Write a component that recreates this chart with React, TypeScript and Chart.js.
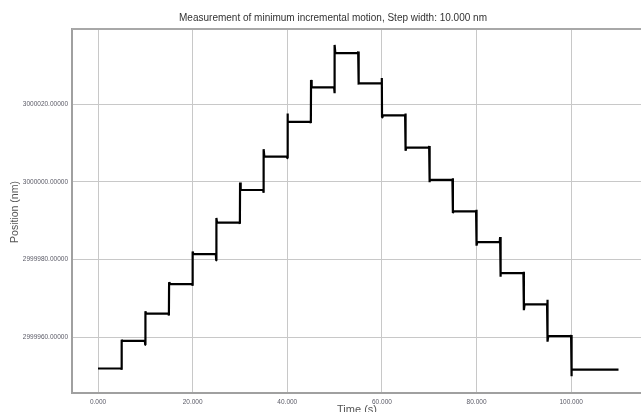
import React, { useEffect, useRef } from "react";
import { Chart, registerables } from "chart.js";

Chart.register(...registerables);

const titleText = "Measurement of minimum incremental motion, Step width: 10.000 nm";
const xTitle = "Time (s)";
const yTitle = "Position (nm)";

// boundaries of each plateau (s)
const stepTimes = [0, 5, 10, 15, 20, 25, 30, 35, 40, 45, 50, 55, 60, 65, 70, 75, 80, 85, 90, 95, 100, 110];
// plateau positions (nm)
const levels = [
  2999952.0, 2999959.1, 2999966.1, 2999973.7, 2999981.4, 2999989.5, 2999997.9, 3000006.5,
  3000015.4, 3000024.3, 3000033.1, 3000025.3, 3000017.1, 3000008.8, 3000000.5, 2999992.4,
  2999984.5, 2999976.5, 2999968.5, 2999960.3, 2999951.7,
];
// spike opposite to the move, just before each transition (nm)
const preSpike = [0.3, 1.0, 0.5, 0.4, 1.6, 0.3, 0.7, 0.4, 0.3, 1.5, 0.4, 1.4, 0.5, 0.4, 0.4, 0.4, 1.3, 0.4, 1.2, 0.3];
// overshoot past the new level at each transition (nm)
const overshoot = [0.3, 0.6, 0.5, 0.7, 1.2, 1.9, 1.9, 2.2, 1.9, 2.1, 0.3, 0.5, 0.8, 0.6, 0.4, 0.9, 0.9, 1.5, 1.4, 1.7];

const xTicks = [0, 20, 40, 60, 80, 100];
const yTicks = [2999960, 2999980, 3000000, 3000020];

function buildPoints() {
  const pts: { x: number; y: number }[] = [];
  pts.push({ x: stepTimes[0], y: levels[0] });
  for (let i = 0; i < levels.length - 1; i++) {
    const t = stepTimes[i + 1];
    const dir = Math.sign(levels[i + 1] - levels[i]);
    pts.push({ x: t - 0.1, y: levels[i] });
    pts.push({ x: t - 0.02, y: levels[i] - dir * preSpike[i] });
    pts.push({ x: t + 0.02, y: levels[i + 1] + dir * overshoot[i] });
    pts.push({ x: t + 0.15, y: levels[i + 1] });
  }
  pts.push({ x: stepTimes[stepTimes.length - 1], y: levels[levels.length - 1] });
  return pts;
}

const framePlugin = {
  id: "frame",
  afterDraw(chart: any) {
    const { ctx, chartArea } = chart;
    ctx.save();
    ctx.strokeStyle = "#a8a8a8";
    ctx.lineWidth = 2;
    ctx.beginPath();
    ctx.moveTo(chartArea.left, chartArea.top);
    ctx.lineTo(chartArea.right, chartArea.top);
    ctx.stroke();
    ctx.fillStyle = "#333";
    ctx.font = "10px 'Liberation Sans', Arial, sans-serif";
    ctx.textAlign = "center";
    ctx.textBaseline = "middle";
    ctx.fillText(titleText, 333, 18);
    ctx.fillStyle = "#555";
    ctx.font = "11px 'Liberation Sans', Arial, sans-serif";
    ctx.fillText(xTitle, 357, 410);
    ctx.font = "10.5px 'Liberation Sans', Arial, sans-serif";
    ctx.translate(15, 212);
    ctx.rotate(-Math.PI / 2);
    ctx.fillText(yTitle, 0, 0);
    ctx.restore();
  },
};

export default function App() {
  const ref = useRef<HTMLCanvasElement | null>(null);
  useEffect(() => {
    if (!ref.current) return;
    const tickFont = { size: 6.5, family: "'Liberation Sans', Arial, sans-serif" };
    const chart = new Chart(ref.current, {
      type: "line",
      data: {
        datasets: [
          {
            data: buildPoints(),
            borderColor: "#000",
            borderWidth: 2.2,
            borderJoinStyle: "bevel",
            pointRadius: 0,
            tension: 0,
          },
        ],
      },
      options: {
        animation: false,
        responsive: false,
        parsing: false as any,
        layout: { padding: { top: 29, right: 5, left: 0, bottom: 0 } },
        plugins: { legend: { display: false }, tooltip: { enabled: false }, title: { display: false } },
        scales: {
          x: {
            type: "linear",
            min: -5.5,
            max: 115.6,
            afterBuildTicks: (s: any) => {
              s.ticks = xTicks.map((v) => ({ value: v }));
            },
            afterFit: (s: any) => {
              s.height = 37;
            },
            ticks: {
              callback: (v: any) => Number(v).toFixed(3),
              font: tickFont,
              color: "#5a5a66",
              padding: 5,
              maxRotation: 0,
              autoSkip: false,
            },
            grid: { color: "#c8c8c8", lineWidth: 1, drawTicks: false },
            border: { display: true, color: "#a0a0a0", width: 2 },
          },
          y: {
            type: "linear",
            min: 2999945.7,
            max: 3000039.3,
            afterBuildTicks: (s: any) => {
              s.ticks = yTicks.map((v) => ({ value: v }));
            },
            afterFit: (s: any) => {
              s.width = 72;
            },
            ticks: {
              callback: (v: any) => Number(v).toFixed(5),
              font: tickFont,
              color: "#5a5a66",
              padding: 4,
              autoSkip: false,
            },
            grid: { color: "#c8c8c8", lineWidth: 1, drawTicks: false },
            border: { display: true, color: "#a0a0a0", width: 2 },
          },
        },
      },
      plugins: [framePlugin],
    });
    return () => chart.destroy();
  }, []);
  return (
    <div style={{ position: "fixed", left: 0, top: 0, width: 641, height: 412, overflow: "hidden", background: "#fff" }}>
      <canvas ref={ref} width={650} height={430} style={{ display: "block", width: 650, height: 430 }} />
    </div>
  );
}
